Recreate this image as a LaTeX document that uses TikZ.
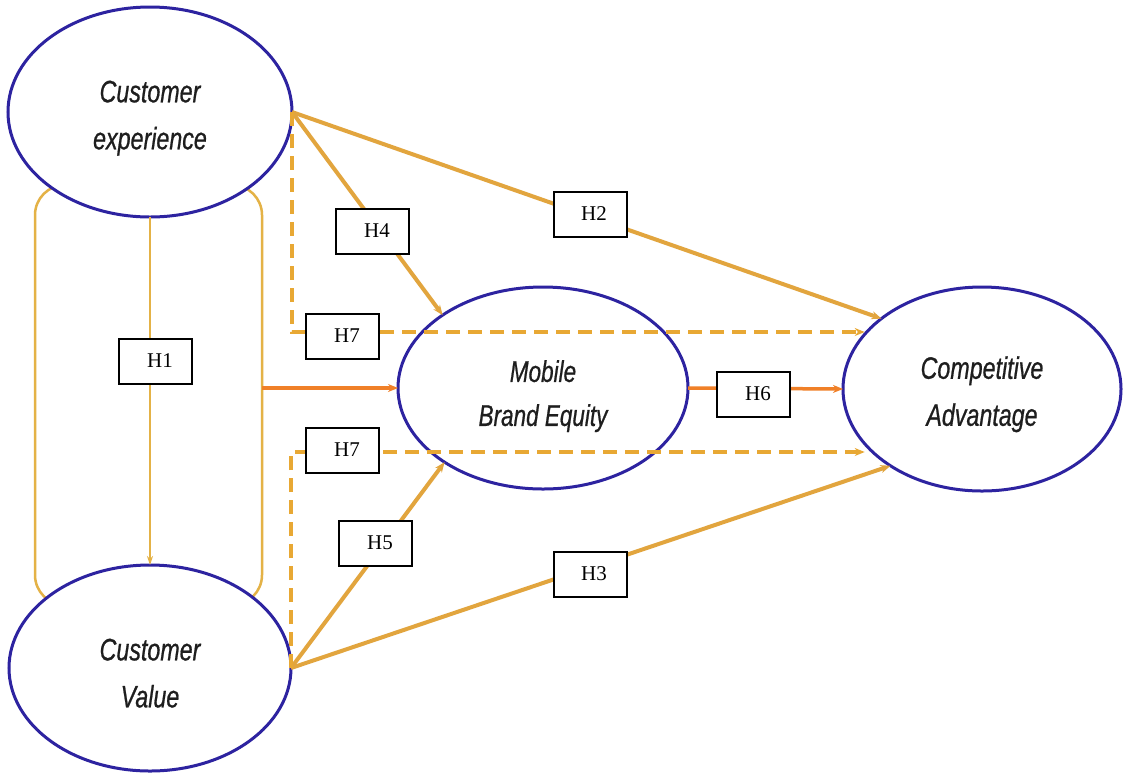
\documentclass[tikz,border=0pt]{standalone}
\usepackage{fontspec}
\setmainfont{Liberation Serif}
\newfontfamily\arialf[ItalicFeatures={FakeBold=0.8}]{Liberation Sans}
\usetikzlibrary{shapes.geometric,arrows.meta,calc}
\newcommand\sqz[1]{\scalebox{0.75}[1]{#1}}
\newcommand\lift[1]{\rule{0pt}{#1}}
\definecolor{cnavy}{RGB}{45,35,160}
\definecolor{cgold}{RGB}{226,165,62}
\definecolor{corange}{RGB}{240,128,40}
\definecolor{cdash}{RGB}{232,168,52}
\definecolor{clight}{RGB}{228,178,70}
\definecolor{ctext}{RGB}{30,30,30}
\begin{document}
\begin{tikzpicture}[x=1pt,y=-1pt,
  construct/.style={ellipse, draw=cnavy, line width=3pt, fill=white, inner sep=0pt, outer sep=0pt,
    align=center, text=ctext, font=\arialf\itshape\fontsize{31}{47}\selectfont},
  hlabel/.style={draw=black, line width=2pt, fill=white, minimum width=73pt, minimum height=45pt,
    inner sep=0pt, font=\fontsize{21}{24}\selectfont},
  tipstyle/.style={-{Stealth[length=10pt,width=8pt]}},
  link/.style={draw=cgold, line width=4pt, tipstyle},
  olink/.style={draw=corange, line width=3.5pt, tipstyle},
  thinlink/.style={draw=clight, line width=2.5pt, -{Stealth[length=9pt,width=6pt]}},
  dlink/.style={draw=cdash, line width=4pt, dash pattern=on 14pt off 8pt, tipstyle},
  frame/.style={draw=clight, line width=2.5pt, rounded corners=30pt}
]
\fill[white] (0,0) rectangle (1123,772);
\useasboundingbox (0,0) rectangle (1123,772);

% frame between the two customer constructs
\draw[frame] (35,185) rectangle (262,605);

% constructs
\node[construct, minimum width=284pt, minimum height=210pt] (ce) at (150,112)
  {\lift{34pt}\sqz{Customer}\\\sqz{experience}};
\node[construct, minimum width=282pt, minimum height=206pt] (cv) at (150,668)
  {\lift{32pt}\sqz{Customer}\\\sqz{Value}};
\node[construct, minimum width=290pt, minimum height=202pt,
  font=\arialf\itshape\fontsize{30}{44}\selectfont] (mbe) at (543,388)
  {\lift{38pt}\sqz{Mobile}\\\sqz{Brand Equity}};
\node[construct, minimum width=278pt, minimum height=204pt] (ca) at (982,389)
  {\lift{33pt}\sqz{Competitive}\\\sqz{Advantage}};

% connectors
\draw[thinlink] (ce.south) -- (cv.north);
\draw[link] (ce.east) -- (ca.145);
\draw[link] (ce.east) -- (mbe.144);
\draw[link] (cv.east) -- (ca.220);
\draw[link] (cv.east) -- (mbe.217);
\draw[olink] (mbe.east) -- (ca.west);
\coordinate (rr) at (262,388);
\draw[olink] (rr) -- (mbe.west);
\coordinate (t7) at (290,332);
\coordinate (b7) at (290,452);
\draw[dlink] (ce.east) |- (t7 -| ca.155);
\draw[dlink] (cv.east) |- (b7 -| ca.205);

% hypothesis labels
\node[hlabel] (h1) at (155,361) {\hspace*{10pt}H1};
\node[hlabel] (h2) at (590,214) {\hspace*{8pt}H2};
\node[hlabel] (h3) at (590,574) {\hspace*{8pt}H3};
\node[hlabel] (h4) at (372,231) {\hspace*{10pt}H4};
\node[hlabel] (h5) at (375,543) {\hspace*{10pt}H5};
\node[hlabel] (h6) at (753,394) {\hspace*{10pt}H6};
\node[hlabel] (h7a) at (342,336) {\hspace*{10pt}H7};
\node[hlabel] (h7b) at (342,450) {\hspace*{10pt}H7};
\end{tikzpicture}
\end{document}
